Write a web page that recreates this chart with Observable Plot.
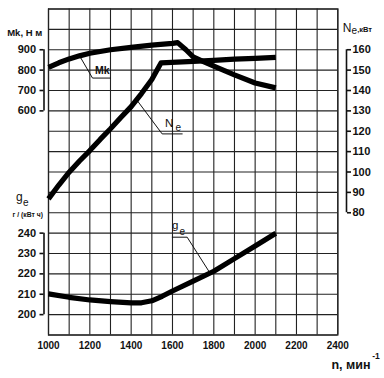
<!DOCTYPE html>
<html><head><meta charset="utf-8">
<script src="https://cdn.jsdelivr.net/npm/d3@7"></script>
<script src="https://cdn.jsdelivr.net/npm/@observablehq/plot@0.6"></script>
<style>body{margin:0;background:#fff} svg{display:block}</style>
</head><body><div id="chart"></div>
<script>
// ---- data ----
const rpmTicks = [1000, 1200, 1400, 1600, 1800, 2000, 2200, 2400];
const rpmGrid = [1000, 1100, 1200, 1300, 1400, 1500, 1600, 1700, 1800, 1900, 2000, 2100, 2200, 2300, 2400];
const rowGrid = [-500, -400, -300, -200, -100, 0, 100, 200, 300, 400, 500, 600, 700, 800, 900, 1000, 1100];

const mkTicks = [600, 700, 800, 900];
const neTicks = [80, 90, 100, 110, 120, 130, 140, 150, 160];
const geTicks = [200, 210, 220, 230, 240];

const mkRpm = [1000, 1050, 1100, 1150, 1200, 1300, 1400, 1500, 1600, 1625, 1665, 1700, 1750, 1800, 1900, 2000, 2100];
const mkValues = [813, 836, 855, 870, 883, 900, 912, 923, 931, 935, 900, 865, 842, 820, 777, 737, 713];

const neRpm = [1000, 1050, 1100, 1150, 1200, 1250, 1300, 1350, 1400, 1450, 1500, 1520, 1545, 1700, 1800, 1900, 2000, 2100];
const neValues = [86.8, 93.6, 99.9, 105.4, 110.5, 116, 121.2, 126.7, 132.1, 138.5, 145.4, 149.1, 153.6, 154.3, 154.8, 155.4, 155.8, 156.3];

const geRpm = [1000, 1100, 1200, 1300, 1400, 1450, 1500, 1550, 1600, 1700, 1800, 1900, 2000, 2100];
const geValues = [210.2, 208.5, 207.2, 206.4, 205.8, 205.8, 206.8, 209, 211.6, 216.4, 221.3, 227.5, 233.7, 239.9];

// leader lines and inline labels (in each series' own units)
const mkLeaderRpm = [1155, 1213, 1300];
const mkLeaderVal = [862, 761, 761];
const neLeaderRpm = [1429, 1550, 1647];
const neLeaderVal = [135.1, 118.7, 118.7];
const geLeaderRpm = [1599, 1671, 1784];
const geLeaderVal = [238, 238, 220];

// ---- shared vertical scale: Mk units; Ne and ge mapped onto it ----
const neToY = v => (v - 160) * 10 + 900;
const geToY = v => (v - 240) * 10;

const font = "'Liberation Sans', Arial, Helvetica, sans-serif";
const ink = "#111";

const chart = Plot.plot({
  width: 384, height: 378,
  marginLeft: 48, marginRight: 46.7, marginTop: 8.5, marginBottom: 43.5,
  x: {domain: [1000, 2400], axis: null},
  y: {domain: [-500, 1100], axis: null},
  style: {fontFamily: font, background: "#fff", overflow: "visible", color: ink},
  marks: [
    Plot.gridX(rpmGrid, {stroke: "#222", strokeOpacity: 1, strokeWidth: 1.1}),
    Plot.gridY(rowGrid, {stroke: "#222", strokeOpacity: 1, strokeWidth: 1.1}),
    Plot.frame({stroke: "#222", strokeWidth: 1.3}),

    // x axis labels
    Plot.axisX(rpmTicks, {anchor: "bottom", tickSize: 0, tickPadding: 7, fontSize: 10, fontWeight: "bold", tickFormat: d => String(d), fill: ink}),

    // left Mk axis
    Plot.ruleX([1000], {y1: mkTicks[0], y2: mkTicks[mkTicks.length - 1], dx: -4.5, stroke: ink, strokeWidth: 1.6}),
    Plot.axisY(mkTicks, {anchor: "left", tickSize: 4, dx: -4.5, tickPadding: 4, strokeWidth: 1.6, fontSize: 11, fontWeight: "bold", tickFormat: d => String(d), fill: ink}),

    // left ge axis
    Plot.ruleX([1000], {y1: geToY(geTicks[0]), y2: geToY(geTicks[geTicks.length - 1]), dx: -4.5, stroke: ink, strokeWidth: 1.6}),
    Plot.axisY(geTicks.map(geToY), {anchor: "left", tickSize: 4, dx: -4.5, tickPadding: 4, strokeWidth: 1.6, fontSize: 11, fontWeight: "bold", tickFormat: d => String(Math.round(d / 10 + 240)), fill: ink}),

    // right Ne axis
    Plot.ruleX([2400], {y1: neToY(neTicks[0]), y2: neToY(neTicks[neTicks.length - 1]), dx: 8.7, stroke: ink, strokeWidth: 1.6}),
    Plot.axisY(neTicks.map(neToY), {anchor: "right", tickSize: 4, dx: 8.7, tickPadding: 2, strokeWidth: 1.6, fontSize: 11, fontWeight: "bold", tickFormat: d => String(Math.round((d - 900) / 10 + 160)), fill: ink}),

    // leader lines
    Plot.line(mkLeaderVal, {x: mkLeaderRpm, y: mkLeaderVal, stroke: ink, strokeWidth: 1}),
    Plot.line(neLeaderVal, {x: neLeaderRpm, y: neLeaderVal.map(neToY), stroke: ink, strokeWidth: 1}),
    Plot.line(geLeaderVal, {x: geLeaderRpm, y: geLeaderVal.map(geToY), stroke: ink, strokeWidth: 1}),

    // curves
    Plot.line(mkValues, {x: mkRpm, y: mkValues, stroke: "#000", strokeWidth: 5.2, strokeLinejoin: "round", strokeLinecap: "butt"}),
    Plot.line(neValues, {x: neRpm, y: neValues.map(neToY), stroke: "#000", strokeWidth: 5.2, strokeLinejoin: "round", strokeLinecap: "butt"}),
    Plot.line(geValues, {x: geRpm, y: geValues.map(geToY), stroke: "#000", strokeWidth: 5.2, strokeLinejoin: "round", strokeLinecap: "butt"}),

    // inline curve labels
    Plot.text(["Mk"], {x: [1260], y: [800], fontSize: 10.5, fontWeight: "bold", fill: ink}),
    Plot.text(["N"], {x: [1584], y: [neToY(123.8)], fontSize: 11.5, fill: ink}),
    Plot.text(["e"], {x: [1628], y: [neToY(121.6)], fontSize: 10, fill: ink}),
    Plot.text(["g"], {x: [1613], y: [geToY(243.7)], fontSize: 11.5, fill: ink}),
    Plot.text(["e"], {x: [1647], y: [geToY(240.8)], fontSize: 10, fill: ink}),

    // axis titles
    Plot.text(["Mk, Н м"], {frameAnchor: "top-left", textAnchor: "start", lineAnchor: "bottom", dx: -41.3, dy: 26.5, fontSize: 9.5, fontWeight: "bold", fill: ink}),
    Plot.text(["N"], {frameAnchor: "top-right", textAnchor: "start", lineAnchor: "bottom", dx: 5, dy: 23.2, fontSize: 12, fill: ink}),
    Plot.text(["e"], {frameAnchor: "top-right", textAnchor: "start", lineAnchor: "bottom", dx: 13.6, dy: 25, fontSize: 10, fill: ink}),
    Plot.text([",кВт"], {frameAnchor: "top-right", textAnchor: "start", lineAnchor: "bottom", dx: 19.4, dy: 23.2, fontSize: 7.5, fontWeight: "bold", fill: ink}),
    Plot.text(["g"], {frameAnchor: "top-left", textAnchor: "start", lineAnchor: "bottom", dx: -32.5, dy: 191.5, fontSize: 12, fill: ink}),
    Plot.text(["e"], {frameAnchor: "top-left", textAnchor: "start", lineAnchor: "bottom", dx: -25.5, dy: 196.8, fontSize: 10, fill: ink}),
    Plot.text(["г / (кВт ч)"], {frameAnchor: "top-left", textAnchor: "start", lineAnchor: "bottom", dx: -36, dy: 207.5, fontSize: 6.8, fontWeight: "bold", fill: ink}),
    Plot.text(["n, мин"], {frameAnchor: "bottom-right", textAnchor: "end", lineAnchor: "bottom", dx: 32.7, dy: 33.8, fontSize: 12.5, fontWeight: "bold", fill: ink}),
    Plot.text(["-1"], {frameAnchor: "bottom-right", textAnchor: "start", lineAnchor: "bottom", dx: 34.4, dy: 23.8, fontSize: 8.5, fontWeight: "bold", fill: ink})
  ]
});
document.getElementById("chart").append(chart);
</script>
</body></html>
